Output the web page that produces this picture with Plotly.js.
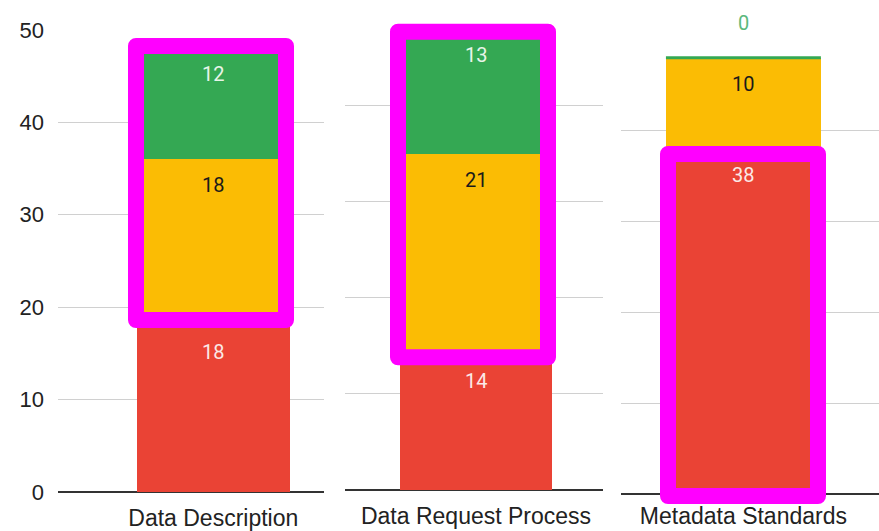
<!DOCTYPE html>
<html>
<head>
<meta charset="utf-8">
<script src="https://cdn.plot.ly/plotly-3.0.1.min.js"></script>
<style>
html,body{margin:0;padding:0;background:#fff;}
#chart{width:879px;height:531px;}
.shapelayer path{stroke-linejoin:round !important;}
</style>
</head>
<body>
<div id="chart"></div>
<script>
// ---- data ----
const categories = ['Data Description', 'Data Request Process', 'Metadata Standards'];
const redValues = [18, 14, 38];
const yellowValues = [18, 21, 10];
const greenValues = [12, 13, 0];
const yTickVals = [0, 10, 20, 30, 40, 50];

// ---- styles ----
const RED = '#EA4335', YELLOW = '#FBBC04', GREEN = '#34A853', MAGENTA = '#FF00FF';
const FONT = 'Roboto, "Liberation Sans", Arial, sans-serif';
const AXFONT = '"Liberation Sans", Arial, Helvetica, sans-serif';
const BW = 0.6; // bar width in category units
const W = 879, H = 531;
const px = v => v / W;
const py = v => 1 - v / H;

// panel geometry (pixels)
const panels = [
  {x0: 58, x1: 324, yZero: 492, yFifty: 29.8, xr: [-0.611, 0.4355], standoff: 10},
  {x0: 345, x1: 602.5, yZero: 490, yFifty: 9.5, xr: [-0.517, 0.499], standoff: 10},
  {x0: 621, x1: 879, yZero: 494.4, yFifty: 39.6, xr: [-0.474, 0.525], standoff: 6}
];

const traces = [];
const annotations = [];
const shapes = [];
const layout = {
  width: W, height: H,
  margin: {l: 0, r: 0, t: 0, b: 0},
  paper_bgcolor: '#fff', plot_bgcolor: '#fff',
  barmode: 'stack',
  showlegend: false,
  font: {family: FONT, color: '#222'}
};

categories.forEach((cat, i) => {
  const n = i + 1;
  const xa = n === 1 ? 'x' : 'x' + n;
  const ya = n === 1 ? 'y' : 'y' + n;
  const xk = n === 1 ? 'xaxis' : 'xaxis' + n;
  const yk = n === 1 ? 'yaxis' : 'yaxis' + n;
  const p = panels[i];
  const series = [
    {v: redValues[i], c: RED, tc: '#fbe9e7'},
    {v: yellowValues[i], c: YELLOW, tc: '#1a1a1a'},
    {v: greenValues[i], c: GREEN, tc: '#e8f5e9'}
  ];
  let cum = 0;
  series.forEach(s => {
    traces.push({
      type: 'bar', x: [cat], y: [s.v], width: BW,
      marker: {color: s.c, line: {width: 0}},
      xaxis: xa, yaxis: ya, hoverinfo: 'skip'
    });
    cum += s.v;
    if (s.v > 0) {
      annotations.push({
        xref: xa, yref: ya, x: cat, y: cum, text: String(s.v),
        showarrow: false, yanchor: 'middle', yshift: -26,
        font: {family: FONT, size: 20, color: s.tc}
      });
    } else {
      // zero-height segment: thin line on top of stack plus outside label
      shapes.push({
        type: 'line', xref: xa, yref: ya, x0: -BW / 2, x1: BW / 2, y0: cum, y1: cum,
        line: {color: GREEN, width: 3}, layer: 'above'
      });
      annotations.push({
        xref: xa, yref: ya, x: cat, y: cum, text: String(s.v),
        showarrow: false, yanchor: 'middle', yshift: 35,
        font: {family: FONT, size: 20, color: '#5cb87c'}
      });
    }
  });

  layout[xk] = {
    domain: [px(p.x0), px(p.x1)], anchor: ya, type: 'category',
    range: p.xr, showgrid: false, zeroline: false, showline: false,
    ticks: '', ticklabelstandoff: p.standoff,
    tickfont: {family: AXFONT, size: 23, color: '#222'}, fixedrange: true
  };
  layout[yk] = {
    domain: [py(p.yZero), py(p.yFifty)], anchor: xa, range: [0, 50],
    tickvals: yTickVals, showgrid: true, gridcolor: '#d0d0d0', gridwidth: 1,
    zeroline: true, zerolinecolor: '#333', zerolinewidth: 2,
    showline: false, ticks: '', showticklabels: n === 1,
    ticklabelstandoff: 13,
    tickfont: {family: AXFONT, size: 22, color: '#222'}, fixedrange: true
  };
});

// magenta highlight boxes (annotation overlay, pixel-positioned)
const boxes = [
  [136, 46, 286, 320],
  [398, 31.7, 548, 357.3],
  [668, 154, 818, 496]
];
boxes.forEach(b => {
  shapes.push({
    type: 'rect', xref: 'paper', yref: 'paper',
    x0: px(b[0]), x1: px(b[2]), y0: py(b[3]), y1: py(b[1]),
    line: {color: MAGENTA, width: 16}, fillcolor: 'rgba(0,0,0,0)', layer: 'above'
  });
});

layout.annotations = annotations;
layout.shapes = shapes;

Plotly.newPlot('chart', traces, layout, {displayModeBar: false, staticPlot: true});
</script>
</body>
</html>
